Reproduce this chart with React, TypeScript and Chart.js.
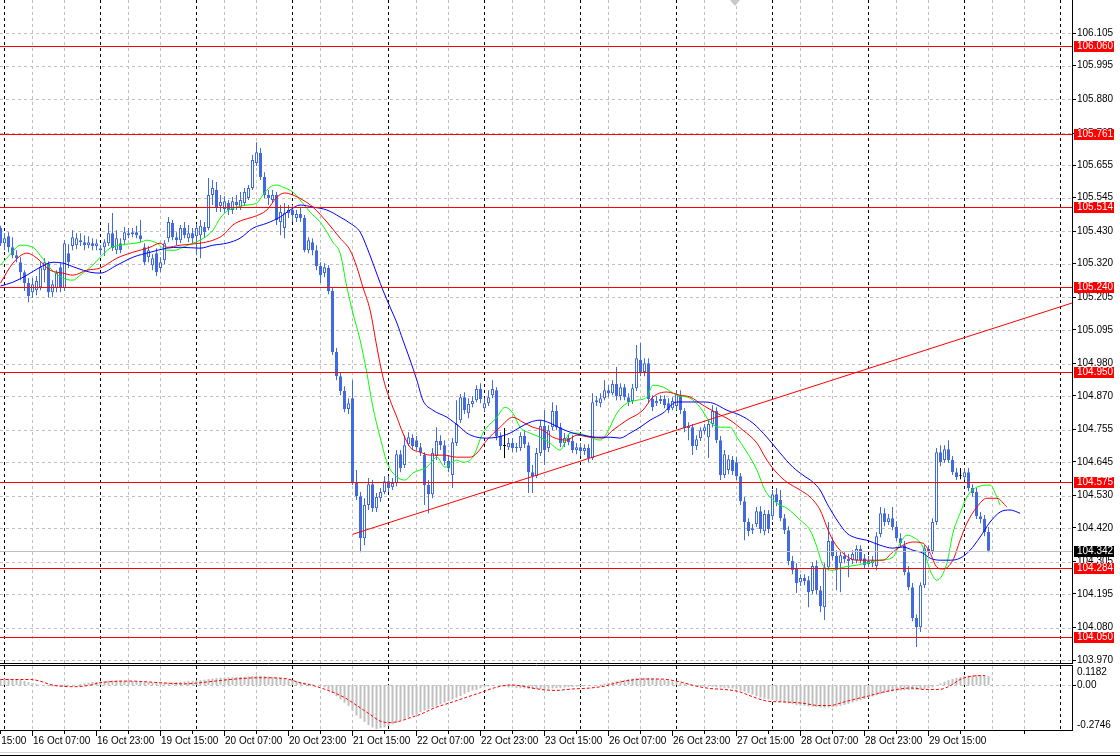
import React, { useEffect, useRef } from "react";
import { Chart, registerables } from "chart.js";

Chart.register(...registerables);

// ---------------- DATA ----------------
const candleOpen = [
  105.442,105.390,105.414,105.376,105.349,105.325,105.291,105.254,105.223,105.230,
  105.240,105.298,105.322,105.223,105.237,105.308,105.237,105.356,105.380,105.383,
  105.400,105.393,105.383,105.390,105.380,105.373,105.376,105.390,105.424,105.366,
  105.390,105.400,105.424,105.420,105.427,105.417,105.376,105.342,105.315,105.356,
  105.305,105.332,105.407,105.459,105.410,105.400,105.442,105.407,105.424,105.414,
  105.417,105.445,105.442,105.554,105.571,105.517,105.506,105.527,105.503,105.530,
  105.513,105.527,105.544,105.578,105.663,105.697,105.615,105.554,105.537,105.554,
  105.462,105.442,105.493,105.503,105.476,105.489,105.476,105.366,105.393,105.366,
  105.312,105.288,105.305,105.227,105.019,104.937,104.886,104.825,104.862,104.576,
  104.528,104.385,104.498,104.569,104.487,104.521,104.542,104.579,104.559,104.573,
  104.671,104.634,104.705,104.726,104.719,104.695,104.668,104.566,104.535,104.665,
  104.716,104.702,104.648,104.600,104.709,104.787,104.865,104.811,104.842,104.855,
  104.893,104.828,104.845,104.872,104.889,104.733,104.699,104.695,104.709,104.692,
  104.692,104.733,104.702,104.610,104.596,104.675,104.767,104.692,104.763,104.818,
  104.763,104.709,104.726,104.716,104.685,104.695,104.682,104.692,104.658,104.848,
  104.845,104.862,104.889,104.879,104.910,104.869,104.899,104.865,104.852,104.896,
  104.992,104.951,104.981,104.859,104.845,104.852,104.859,104.845,104.828,104.835,
  104.872,104.818,104.760,104.763,104.699,104.726,104.750,104.729,104.774,104.818,
  104.719,104.600,104.617,104.651,104.644,104.596,104.511,104.440,104.412,104.433,
  104.477,104.409,104.467,104.460,104.535,104.515,104.453,104.412,104.307,104.283,
  104.235,104.249,104.242,104.205,104.290,104.208,104.150,104.286,104.375,104.324,
  104.300,104.324,104.314,104.310,104.310,104.348,104.317,104.297,104.300,104.290,
  104.399,104.470,104.440,104.453,104.423,104.385,104.361,104.269,104.218,104.113,
  104.082,104.225,104.348,104.341,104.440,104.678,104.651,104.688,104.651,104.610,
  104.596,104.593,104.610,104.556,104.542,104.460,104.450,104.406
];
const candleHigh = [
  105.449,105.424,105.427,105.410,105.366,105.342,105.298,105.271,105.271,105.278,
  105.325,105.339,105.328,105.264,105.298,105.322,105.400,105.386,105.434,105.424,
  105.424,105.417,105.414,105.407,105.403,105.383,105.403,105.459,105.493,105.434,
  105.407,105.445,105.442,105.442,105.449,105.469,105.390,105.380,105.352,105.373,
  105.342,105.400,105.479,105.469,105.427,105.452,105.462,105.452,105.442,105.455,
  105.469,105.462,105.612,105.605,105.598,105.554,105.550,105.537,105.547,105.554,
  105.564,105.578,105.588,105.690,105.734,105.714,105.632,105.571,105.571,105.564,
  105.520,105.527,105.520,105.520,105.503,105.513,105.486,105.410,105.407,105.383,
  105.325,105.322,105.315,105.237,105.033,104.951,104.903,104.862,104.923,104.617,
  104.542,104.521,104.590,104.583,104.539,104.556,104.596,104.596,104.590,104.685,
  104.685,104.736,104.746,104.739,104.733,104.709,104.678,104.583,104.692,104.763,
  104.736,104.719,104.668,104.726,104.855,104.876,104.882,104.862,104.869,104.906,
  104.913,104.862,104.889,104.923,104.899,104.746,104.760,104.726,104.726,104.709,
  104.746,104.753,104.712,104.634,104.692,104.787,104.821,104.770,104.848,104.838,
  104.777,104.743,104.739,104.736,104.709,104.709,104.705,104.705,104.879,104.869,
  104.879,104.923,104.906,104.923,104.968,104.913,104.910,104.879,104.910,105.043,
  105.050,104.998,104.998,104.872,104.869,104.872,104.872,104.862,104.865,104.889,
  104.889,104.828,104.780,104.774,104.736,104.763,104.774,104.787,104.838,104.831,
  104.733,104.685,104.668,104.665,104.661,104.607,104.525,104.453,104.433,104.491,
  104.494,104.481,104.481,104.549,104.556,104.549,104.467,104.426,104.324,104.300,
  104.262,104.262,104.256,104.303,104.310,104.222,104.300,104.440,104.388,104.344,
  104.341,104.337,104.331,104.344,104.361,104.361,104.331,104.324,104.324,104.405,
  104.491,104.487,104.467,104.491,104.443,104.402,104.375,104.290,104.232,104.126,
  104.235,104.361,104.361,104.453,104.692,104.702,104.702,104.719,104.665,104.624,
  104.624,104.624,104.624,104.569,104.556,104.474,104.464,104.423
];
const candleLow = [
  105.380,105.366,105.359,105.339,105.325,105.264,105.227,105.189,105.203,105.213,
  105.230,105.257,105.206,105.206,105.223,105.223,105.227,105.305,105.366,105.369,
  105.380,105.366,105.373,105.366,105.366,105.349,105.346,105.380,105.363,105.352,
  105.356,105.383,105.407,105.410,105.407,105.393,105.315,105.325,105.298,105.278,
  105.291,105.318,105.393,105.400,105.383,105.390,105.407,105.393,105.390,105.349,
  105.339,105.410,105.434,105.520,105.496,105.496,105.493,105.486,105.489,105.503,
  105.503,105.517,105.537,105.571,105.653,105.605,105.544,105.520,105.527,105.452,
  105.417,105.407,105.476,105.462,105.462,105.462,105.359,105.356,105.349,105.298,
  105.254,105.274,105.216,105.009,104.923,104.872,104.814,104.808,104.566,104.515,
  104.337,104.361,104.481,104.474,104.474,104.508,104.535,104.542,104.549,104.562,
  104.610,104.624,104.699,104.685,104.685,104.665,104.498,104.470,104.521,104.651,
  104.685,104.634,104.610,104.556,104.699,104.777,104.808,104.794,104.831,104.848,
  104.845,104.814,104.835,104.862,104.719,104.685,104.658,104.685,104.678,104.678,
  104.682,104.692,104.539,104.539,104.590,104.665,104.634,104.678,104.753,104.753,
  104.695,104.695,104.702,104.675,104.671,104.665,104.668,104.644,104.651,104.835,
  104.831,104.855,104.865,104.872,104.855,104.855,104.855,104.835,104.842,104.886,
  104.937,104.937,104.845,104.818,104.835,104.842,104.828,104.811,104.821,104.821,
  104.808,104.746,104.719,104.668,104.685,104.716,104.739,104.658,104.763,104.709,
  104.583,104.590,104.603,104.600,104.583,104.498,104.378,104.392,104.399,104.423,
  104.402,104.395,104.402,104.447,104.494,104.443,104.399,104.293,104.262,104.198,
  104.222,104.225,104.150,104.194,104.194,104.133,104.106,104.276,104.310,104.208,
  104.201,104.300,104.252,104.297,104.300,104.300,104.283,104.286,104.286,104.276,
  104.388,104.426,104.430,104.412,104.375,104.355,104.259,104.208,104.102,104.014,
  104.065,104.215,104.324,104.331,104.430,104.630,104.641,104.641,104.600,104.583,
  104.586,104.583,104.545,104.525,104.450,104.436,104.392,104.337
];
const candleClose = [
  105.390,105.407,105.376,105.349,105.339,105.291,105.254,105.210,105.250,105.261,
  105.308,105.325,105.223,105.250,105.288,105.240,105.390,105.325,105.410,105.407,
  105.393,105.383,105.393,105.380,105.390,105.366,105.393,105.424,105.373,105.407,
  105.366,105.427,105.417,105.427,105.417,105.403,105.325,105.366,105.339,105.291,
  105.325,105.390,105.462,105.410,105.400,105.442,105.417,105.424,105.407,105.442,
  105.449,105.427,105.554,105.578,105.510,105.530,105.533,105.503,105.533,105.520,
  105.537,105.564,105.578,105.673,105.700,105.615,105.554,105.544,105.554,105.469,
  105.496,105.493,105.503,105.486,105.489,105.476,105.366,105.400,105.366,105.312,
  105.281,105.308,105.227,105.019,104.937,104.886,104.825,104.845,104.576,104.528,
  104.385,104.498,104.569,104.487,104.525,104.542,104.579,104.556,104.573,104.671,
  104.624,104.702,104.729,104.699,104.695,104.678,104.566,104.535,104.675,104.716,
  104.702,104.648,104.624,104.712,104.774,104.865,104.821,104.842,104.852,104.893,
  104.859,104.845,104.865,104.893,104.733,104.699,104.699,104.709,104.692,104.695,
  104.733,104.705,104.610,104.596,104.675,104.767,104.685,104.753,104.818,104.763,
  104.709,104.726,104.712,104.685,104.695,104.682,104.692,104.658,104.848,104.855,
  104.862,104.889,104.879,104.910,104.869,104.899,104.865,104.848,104.896,104.998,
  104.951,104.981,104.859,104.831,104.852,104.859,104.838,104.821,104.852,104.876,
  104.821,104.760,104.767,104.699,104.722,104.753,104.763,104.774,104.818,104.719,
  104.600,104.671,104.654,104.613,104.596,104.511,104.440,104.409,104.419,104.477,
  104.416,104.467,104.416,104.535,104.508,104.453,104.412,104.307,104.276,104.232,
  104.249,104.239,104.201,104.290,104.208,104.153,104.286,104.375,104.324,104.276,
  104.327,104.314,104.307,104.331,104.348,104.310,104.293,104.307,104.310,104.392,
  104.470,104.440,104.453,104.423,104.385,104.368,104.269,104.218,104.113,104.082,
  104.225,104.351,104.337,104.440,104.678,104.644,104.688,104.651,104.610,104.593,
  104.596,104.610,104.556,104.539,104.460,104.450,104.406,104.342
];

const priceTicks = [106.105,105.995,105.880,105.765,105.655,105.545,105.430,105.320,105.205,105.095,
  104.980,104.870,104.755,104.645,104.530,104.420,104.305,104.195,104.080,103.970];
const levelPrices = [106.060,105.761,105.514,105.240,104.950,104.575,104.284,104.050];
const bidPrice = 104.342;
const trendBars = [88, 267.875];
const trendPrices = [104.398, 105.186];

const jawBars = [0,3.1,6.6,9.9,13.1,15.6,19.1,22.4,24.9,29.1,33.1,37.4,41.6,44.9,49.9,53.1,56.6,59.9,63.1,66.6,
  69.9,72.4,74.9,78.1,81.6,84.9,87.4,89.9,91.6,93.1,95.6,97.4,99.1,100.6,102.4,104.1,105.6,108.1,111.6,114.9,
  116.6,119.1,121.6,124.1,127.4,129.9,132.4,134.9,137.4,139.9,143.1,145.6,149.1,152.4,154.9,157.4,159.9,162.4,165.6,169.1,
  172.4,175.6,178.1,181.6,184.9,188.1,191.6,194.9,198.1,200.6,203.1,204.9,206.6,209.1,211.6,214.1,216.6,219.9,223.1,225.6,
  228.1,230.6,232.4,234.9,237.4,239.9,242.4,244.9,247.4,249.9,252.4,254.9];
const jawPrices = [105.244,105.257,105.281,105.308,105.325,105.322,105.305,105.291,105.288,105.315,105.342,105.359,105.373,105.376,105.373,105.383,105.390,105.407,105.441,105.458,
  105.479,105.503,105.520,105.513,105.503,105.479,105.458,105.428,105.376,105.322,105.230,105.172,105.118,105.060,104.992,104.923,104.855,104.821,104.797,104.763,
  104.743,104.729,104.726,104.729,104.743,104.763,104.780,104.787,104.777,104.760,104.743,104.736,104.729,104.729,104.726,104.743,104.763,104.787,104.811,104.849,
  104.849,104.849,104.845,104.821,104.804,104.777,104.729,104.675,104.627,104.600,104.576,104.549,104.504,104.447,104.402,104.385,104.378,104.361,104.351,104.355,
  104.344,104.334,104.317,104.310,104.310,104.317,104.344,104.389,104.440,104.474,104.481,104.470];

const teethBars = [0,3.1,6.6,9.1,12.4,15.6,18.1,21.6,24.9,29.1,33.1,37.4,39.9,41.6,44.9,49.9,53.1,55.6,58.1,60.6,
  63.1,66.6,69.1,71.1,73.1,75.6,78.1,81.6,84.9,87.4,89.1,90.6,92.4,94.1,95.6,97.4,99.1,100.6,102.4,104.9,
  107.4,110.6,114.1,117.4,119.1,121.6,124.9,128.1,130.6,133.1,135.6,138.1,141.6,144.1,147.4,150.6,153.1,156.6,160.6,163.1,
  166.6,169.9,172.4,175.6,179.1,182.4,185.6,189.1,191.6,194.1,196.6,199.9,202.4,204.9,206.6,208.1,210.6,214.1,217.4,220.6,
  223.1,225.6,228.1,230.6,232.4,234.1,235.6,238.1,239.9,241.6,244.1,246.6,249.1,251.6];
const teethPrices = [105.254,105.322,105.356,105.339,105.298,105.288,105.281,105.298,105.305,105.339,105.359,105.376,105.390,105.376,105.383,105.390,105.400,105.417,105.452,105.469,
  105.479,105.503,105.547,105.561,105.554,105.537,105.513,105.462,105.407,105.366,105.308,105.240,105.162,105.036,104.934,104.855,104.797,104.743,104.695,104.678,
  104.668,104.668,104.661,104.661,104.675,104.719,104.763,104.797,104.780,104.763,104.753,104.729,104.719,104.736,104.729,104.726,104.753,104.787,104.821,104.866,
  104.883,104.872,104.866,104.838,104.811,104.787,104.753,104.709,104.651,104.607,104.576,104.549,104.525,104.481,104.423,104.378,104.334,104.310,104.310,104.310,
  104.338,104.361,104.372,104.368,104.334,104.286,104.280,104.310,104.378,104.436,104.491,104.521,104.521,104.491];

const lipsBars = [0,2.9,4.9,8.1,9.9,12.4,15.6,18.1,19.9,23.1,24.9,27.4,29.9,34.9,36.6,39.1,41.6,43.6,45.6,48.1,
  49.9,53.1,54.9,56.6,59.1,61.6,64.1,65.6,67.4,69.1,70.6,73.1,74.9,77.4,79.9,81.6,83.1,84.9,86.6,88.1,
  89.9,91.6,93.1,94.9,96.6,98.1,101.1,103.1,106.6,109.1,111.1,114.1,115.6,118.1,120.6,124.1,126.1,128.1,129.9,132.4,
  134.9,137.4,139.9,142.4,144.1,147.4,149.9,151.6,154.1,156.6,159.1,161.6,163.1,165.6,169.1,172.4,174.9,177.4,179.9,182.4,
  184.1,186.6,189.1,191.1,194.1,196.6,199.9,202.4,204.1,205.6,208.1,210.6,214.1,217.4,219.9,223.1,224.9,226.6,228.1,230.6,
  232.4,234.1,236.6,238.1,239.9,241.6,244.1,247.4,249.1,249.9];
const lipsPrices = [105.315,105.359,105.383,105.376,105.349,105.305,105.271,105.264,105.281,105.315,105.342,105.373,105.383,105.393,105.400,105.390,105.366,105.366,105.376,105.390,
  105.400,105.434,105.475,105.499,105.513,105.520,105.527,105.554,105.581,105.588,105.581,105.564,105.537,105.496,105.462,105.428,105.393,105.356,105.240,105.152,
  105.060,104.947,104.831,104.729,104.644,104.607,104.583,104.607,104.627,104.661,104.627,104.651,104.644,104.661,104.743,104.797,104.831,104.811,104.763,104.743,
  104.729,104.709,104.685,104.743,104.743,104.729,104.719,104.743,104.811,104.845,104.855,104.866,104.906,104.900,104.872,104.862,104.831,104.780,104.763,104.763,
  104.729,104.678,104.617,104.549,104.504,104.487,104.447,104.412,104.355,104.293,104.276,104.286,104.293,104.303,104.310,104.320,104.368,104.395,104.389,104.355,
  104.276,104.242,104.300,104.402,104.470,104.525,104.559,104.566,104.525,104.498];

const macdHist = [
  0.035,0.04,0.04,0.038,0.035,0.03,0.025,0.018,
  0.012,0.006,0.002,-0.002,-0.006,-0.008,-0.01,-0.01,
  -0.008,-0.005,-0.002,0.002,0.006,0.01,0.014,0.018,0.02,
  0.022,0.024,0.026,0.028,0.028,0.028,0.027,0.026,0.024,0.022,0.02,0.018,0.016,0.014,0.012,
  0.012,0.012,0.014,0.016,0.018,0.02,0.022,0.024,0.026,0.028,0.03,
  0.033,0.037,0.04,0.043,0.045,0.046,0.047,0.048,0.049,0.05,0.051,0.053,0.056,0.058,0.058,0.056,0.053,0.05,0.047,0.044,0.04,0.035,
  0.03,0.025,0.02,0.015,0.01,0.005,0.0,-0.005,
  -0.015,-0.03,-0.05,-0.07,-0.09,-0.11,-0.13,-0.16,-0.19,-0.21,-0.23,-0.25,-0.265,-0.2746,-0.27,-0.265,-0.255,-0.245,-0.235,-0.22,
  -0.21,-0.2,-0.19,-0.18,-0.17,-0.16,-0.15,-0.14,-0.13,-0.12,-0.11,-0.1,-0.09,-0.08,-0.07,-0.055,-0.045,-0.035,-0.03,-0.02,
  -0.015,-0.01,-0.005,0.0,-0.005,-0.01,-0.015,-0.015,-0.02,-0.02,
  -0.022,-0.024,-0.025,-0.026,-0.026,-0.025,-0.024,-0.022,-0.02,-0.018,-0.016,-0.014,-0.012,-0.01,-0.008,-0.006,-0.004,-0.002,0.0,0.003,
  0.008,0.013,0.018,0.023,0.028,0.032,0.036,0.04,0.043,0.045,0.045,0.044,0.042,0.039,0.035,0.031,0.027,0.022,0.017,
  0.012,0.008,0.004,0.0,-0.003,-0.006,-0.008,-0.01,-0.012,-0.014,-0.016,-0.018,-0.02,
  -0.022,-0.028,-0.035,-0.042,-0.05,-0.06,-0.07,-0.078,-0.085,-0.09,-0.095,-0.1,-0.105,-0.11,-0.115,-0.12,-0.125,-0.128,-0.13,-0.133,
  -0.135,-0.138,-0.14,-0.141,-0.14,-0.138,-0.135,-0.13,-0.125,-0.118,-0.11,-0.102,-0.095,-0.088,-0.08,-0.072,-0.065,-0.058,-0.05,-0.045,
  -0.04,-0.037,-0.035,-0.033,-0.031,-0.03,-0.03,-0.028,-0.025,-0.02,-0.015,0.0,0.01,0.02,0.03,0.038,0.045,0.05,0.055,0.058,
  0.06,0.06,0.06,0.058,0.055
];
const signalBars = [0,2.4,7.4,9.9,12.4,14.9,18.6,22.4,24.9,32.4,39.9,46.1,49.9,57.4,64.9,71.1,74.9,78.6,82.4,86.1,
  89.9,92.4,94.9,97.4,99.9,102.4,104.9,108.6,112.4,116.1,119.9,123.6,127.4,129.9,134.3,138.6,143.1,147.4,151.0,154.5,
  158.9,161.6,165.1,167.6,170.4,173.9,177.4,180.9,184.4,187.9,191.5,195.9,200.3,204.6,207.4,210.9,214.4,217.0,219.6,224.1,
  227.6,231.1,234.6,237.3,239.9,242.6,246.1];
const signalValues = [0.034,0.034,0.034,0.024,0.003,-0.007,-0.011,-0.001,0.014,0.024,0.014,0.007,0.014,0.034,0.045,0.04,0.014,-0.007,-0.039,-0.08,
  -0.142,-0.184,-0.225,-0.235,-0.225,-0.204,-0.184,-0.142,-0.111,-0.08,-0.049,-0.017,0.0,-0.005,-0.025,-0.034,-0.025,-0.019,-0.007,0.016,
  0.034,0.037,0.037,0.030,0.016,-0.007,-0.022,-0.028,-0.040,-0.072,-0.1,-0.106,-0.113,-0.128,-0.128,-0.106,-0.084,-0.069,-0.051,-0.028,
  -0.019,-0.028,-0.028,-0.007,0.034,0.054,0.059];
const macdScaleLabels = ["0.1182", "0.00", "-0.2746"];

const timeLabels = ["15 Oct 15:00","16 Oct 07:00","16 Oct 23:00","19 Oct 15:00","20 Oct 07:00","20 Oct 23:00","21 Oct 15:00",
  "22 Oct 07:00","22 Oct 23:00","23 Oct 15:00","26 Oct 07:00","26 Oct 23:00","27 Oct 15:00","28 Oct 07:00","28 Oct 23:00","29 Oct 15:00"];
const timeLabelBars = [-8,8,24,40,56,72,88,104,120,136,152,168,184,200,216,232];
const daySeparatorBars = [1,25,49,73,97,121,145,169,193,217,241,265];

// ---------------- layout constants ----------------
const X_MIN = -0.125;
const X_MAX = 267.875;
const PRICE_MIN = 103.9598;
const PRICE_MAX = 106.2184;
const MACD_MIN = -0.2746;
const MACD_MAX = 0.1182;
const ROYAL = "#4169e1";
const FONT = '"Liberation Sans", Arial, sans-serif';
const FONT_SIZE = 10;

function hline(ctx: CanvasRenderingContext2D, x1: number, x2: number, y: number) {
  ctx.beginPath(); ctx.moveTo(x1, y); ctx.lineTo(x2, y); ctx.stroke();
}
function vline(ctx: CanvasRenderingContext2D, x: number, y1: number, y2: number) {
  ctx.beginPath(); ctx.moveTo(x, y1); ctx.lineTo(x, y2); ctx.stroke();
}

function drawVerticalGrid(ctx: CanvasRenderingContext2D, xs: any, top: number, bottom: number) {
  ctx.save();
  ctx.lineWidth = 1;
  ctx.setLineDash([3, 3]);
  ctx.strokeStyle = "#c0c0c0";
  for (let k = 8; k <= 264; k += 8) {
    if (k % 24 === 0) continue;
    const px = Math.floor(xs.getPixelForValue(k)) + 0.5;
    vline(ctx, px, top, bottom);
  }
  ctx.strokeStyle = "#000000";
  for (const d of daySeparatorBars) {
    const px = Math.floor(xs.getPixelForValue(d)) + 0.5;
    vline(ctx, px, top, bottom);
  }
  ctx.restore();
}

const mainPlugin = {
  id: "mainDecor",
  beforeDatasetsDraw(chart: any) {
    const { ctx, chartArea: a } = chart;
    const xs = chart.scales.x, ys = chart.scales.y;
    ctx.save();
    ctx.lineWidth = 1;
    ctx.strokeStyle = "#c0c0c0";
    ctx.setLineDash([3, 3]);
    for (const v of priceTicks) {
      const py = Math.round(ys.getPixelForValue(v)) + 0.5;
      hline(ctx, a.left, a.right, py);
    }
    ctx.restore();
    drawVerticalGrid(ctx, xs, a.top, a.bottom);
  },
  afterDatasetsDraw(chart: any) {
    const { ctx, chartArea: a } = chart;
    const ys = chart.scales.y;
    ctx.save();
    ctx.lineWidth = 1;
    ctx.strokeStyle = "#c0c0c0";
    hline(ctx, a.left, a.right, Math.round(ys.getPixelForValue(bidPrice)) + 0.5);
    ctx.strokeStyle = "#ff0000";
    for (const v of levelPrices) {
      hline(ctx, a.left, a.right, Math.round(ys.getPixelForValue(v)) + 0.5);
    }
    ctx.restore();
  },
  afterDraw(chart: any) {
    const { ctx, chartArea: a } = chart;
    const ys = chart.scales.y;
    ctx.save();
    ctx.lineWidth = 1;
    ctx.strokeStyle = "#000000";
    vline(ctx, a.right + 0.5, 0, a.bottom + 1);
    hline(ctx, 0, a.right + 1, a.bottom + 0.5);
    ctx.font = `${FONT_SIZE}px ${FONT}`;
    ctx.textBaseline = "middle";
    ctx.textAlign = "left";
    const box = (v: number, bg: string) => {
      const py = Math.round(ys.getPixelForValue(v));
      ctx.fillStyle = bg;
      ctx.fillRect(a.right + 2, py - 5, 40, 11);
      ctx.fillStyle = "#ffffff";
      ctx.fillText(v.toFixed(3), a.right + 5, py + 0.5);
    };
    for (const v of levelPrices) box(v, "#ff0000");
    box(bidPrice, "#000000");
    // chart-shift marker
    ctx.fillStyle = "#c8c8c8";
    ctx.beginPath();
    ctx.moveTo(730, 0); ctx.lineTo(740, 0); ctx.lineTo(735, 6); ctx.closePath();
    ctx.fill();
    ctx.restore();
  },
};

const indPlugin = {
  id: "indDecor",
  beforeDatasetsDraw(chart: any) {
    const { ctx, chartArea: a } = chart;
    const xs = chart.scales.x, ys = chart.scales.y;
    drawVerticalGrid(ctx, xs, a.top, a.bottom);
    ctx.save();
    ctx.lineWidth = 1;
    ctx.strokeStyle = "#c0c0c0";
    ctx.setLineDash([3, 3]);
    hline(ctx, a.left, a.right, Math.round(ys.getPixelForValue(0)) + 0.5);
    ctx.restore();
  },
  afterDraw(chart: any) {
    const { ctx, chartArea: a, width } = chart;
    const xs = chart.scales.x, ys = chart.scales.y;
    ctx.save();
    ctx.lineWidth = 1;
    ctx.strokeStyle = "#000000";
    hline(ctx, 0, a.right + 1, a.top - 0.5);
    hline(ctx, 0, a.right + 1, a.bottom + 1.5);
    vline(ctx, a.right + 0.5, a.top - 1, a.bottom + 2);
    // right labels
    ctx.fillStyle = "#000000";
    ctx.font = `${FONT_SIZE}px ${FONT}`;
    ctx.textAlign = "left";
    ctx.textBaseline = "top";
    ctx.fillText(macdScaleLabels[0], a.right + 5, ys.getPixelForValue(MACD_MAX) + 1);
    ctx.textBaseline = "middle";
    const zy = Math.round(ys.getPixelForValue(0)) + 0.5;
    ctx.fillText(macdScaleLabels[1], a.right + 5, zy);
    hline(ctx, a.right + 1, a.right + 4, zy);
    ctx.textBaseline = "bottom";
    ctx.fillText(macdScaleLabels[2], a.right + 5, ys.getPixelForValue(MACD_MIN) + 1);
    // time axis ticks + labels
    const base = a.bottom + 2;
    for (let k = 0; k <= 264; k += 16) {
      const px = Math.floor(xs.getPixelForValue(k)) + 0.5;
      vline(ctx, px, base, base + 3);
    }
    ctx.textBaseline = "middle";
    timeLabelBars.forEach((b, i) => {
      const p = xs.getPixelForValue(b);
      const px = Math.floor(p) + 0.5;
      vline(ctx, px, base, base + 5);
      ctx.fillText(timeLabels[i], Math.floor(p) + 1, 77);
    });
    // window bottom
    ctx.strokeStyle = "#d4d4d4";
    hline(ctx, 0, width, 88.5);
    ctx.strokeStyle = "#000000";
    hline(ctx, 0, width, 91.5);
    ctx.restore();
  },
};

function buildMain(canvas: HTMLCanvasElement) {
  const idx = candleClose.map((_, i) => i);
  const doji = (i: number) => candleOpen[i] === candleClose[i];
  const bodyBg = idx.map((i) => (doji(i) ? "#000000" : candleClose[i] > candleOpen[i] ? "#ffffff" : ROYAL));
  const edge = idx.map((i) => (doji(i) ? "#000000" : ROYAL));
  const lineDs = (bars: number[], vals: number[], color: string) => ({
    type: "line" as const,
    data: bars.map((b, k) => ({ x: b, y: vals[k] })),
    borderColor: color,
    borderWidth: 1,
    pointRadius: 0,
    cubicInterpolationMode: "monotone" as const,
    fill: false,
    order: 1,
  });
  return new Chart(canvas, {
    type: "bar",
    data: {
      datasets: [
        {
          type: "bar",
          data: idx.map((i) => ({ x: i, y: [candleLow[i], candleHigh[i]] })),
          backgroundColor: edge,
          borderWidth: 0,
          grouped: false,
          barPercentage: 1,
          categoryPercentage: 1,
          maxBarThickness: 1,
          inflateAmount: 0,
          order: 4,
        } as any,
        {
          type: "bar",
          data: idx.map((i) => ({ x: i, y: [candleOpen[i], candleClose[i]] })),
          backgroundColor: bodyBg,
          borderColor: edge,
          borderWidth: 1,
          borderSkipped: false,
          minBarLength: 1,
          grouped: false,
          barPercentage: 1,
          categoryPercentage: 1,
          maxBarThickness: 3,
          inflateAmount: 0,
          order: 3,
        } as any,
        lineDs(jawBars, jawPrices, "#0000ff"),
        lineDs(teethBars, teethPrices, "#ff0000"),
        lineDs(lipsBars, lipsPrices, "#00ff00"),
        {
          type: "line",
          data: trendBars.map((b, k) => ({ x: b, y: trendPrices[k] })),
          borderColor: "#ff0000",
          borderWidth: 1,
          pointRadius: 0,
          fill: false,
          order: 0,
        } as any,
      ],
    },
    options: {
      responsive: false,
      animation: false,
      devicePixelRatio: 1,
      events: [],
      layout: { padding: { left: 0, top: 0, right: 0, bottom: 1 } },
      plugins: { legend: { display: false }, tooltip: { enabled: false } },
      scales: {
        x: { type: "linear", min: X_MIN, max: X_MAX, display: false, offset: false },
        y: {
          type: "linear",
          position: "right",
          min: PRICE_MIN,
          max: PRICE_MAX,
          afterBuildTicks: (s: any) => {
            s.ticks = priceTicks.map((v) => ({ value: v }));
          },
          afterFit: (s: any) => {
            s.width = 48;
            s.paddingTop = 0;
            s.paddingBottom = 0;
          },
          ticks: {
            autoSkip: false,
            padding: 1,
            color: "#000000",
            font: { family: FONT, size: FONT_SIZE },
            callback: (v: any) => Number(v).toFixed(3),
          },
          grid: { display: true, drawOnChartArea: false, drawTicks: true, tickLength: 4, tickColor: "#000000", tickWidth: 1 },
          border: { display: false },
        },
      },
    } as any,
    plugins: [mainPlugin],
  });
}

function buildInd(canvas: HTMLCanvasElement) {
  return new Chart(canvas, {
    type: "bar",
    data: {
      datasets: [
        {
          type: "bar",
          data: macdHist.map((v, i) => ({ x: i, y: v })),
          backgroundColor: "#c0c0c0",
          borderWidth: 0,
          grouped: false,
          barPercentage: 1,
          categoryPercentage: 1,
          maxBarThickness: 2,
          inflateAmount: 0,
          order: 2,
        } as any,
        {
          type: "line",
          data: signalBars.map((b, k) => ({ x: b, y: signalValues[k] })),
          borderColor: "#ff0000",
          borderWidth: 1,
          borderDash: [3, 2],
          pointRadius: 0,
          cubicInterpolationMode: "monotone",
          fill: false,
          order: 1,
        } as any,
      ],
    },
    options: {
      responsive: false,
      animation: false,
      devicePixelRatio: 1,
      events: [],
      layout: { padding: { left: 0, top: 2, right: 48, bottom: 27 } },
      plugins: { legend: { display: false }, tooltip: { enabled: false } },
      scales: {
        x: { type: "linear", min: X_MIN, max: X_MAX, display: false, offset: false },
        y: { type: "linear", min: MACD_MIN, max: MACD_MAX, display: false },
      },
    } as any,
    plugins: [indPlugin],
  });
}

export default function App() {
  const mainRef = useRef<HTMLCanvasElement>(null);
  const indRef = useRef<HTMLCanvasElement>(null);
  useEffect(() => {
    const c1 = buildMain(mainRef.current!);
    const c2 = buildInd(indRef.current!);
    return () => {
      c1.destroy();
      c2.destroy();
    };
  }, []);
  return (
    <div style={{ position: "absolute", left: 0, top: 0, width: 1120, height: 756, background: "#ffffff", overflow: "hidden" }}>
      <canvas ref={mainRef} width={1120} height={664} style={{ position: "absolute", left: 0, top: 0, width: 1120, height: 664 }} />
      <canvas ref={indRef} width={1120} height={92} style={{ position: "absolute", left: 0, top: 664, width: 1120, height: 92 }} />
    </div>
  );
}
